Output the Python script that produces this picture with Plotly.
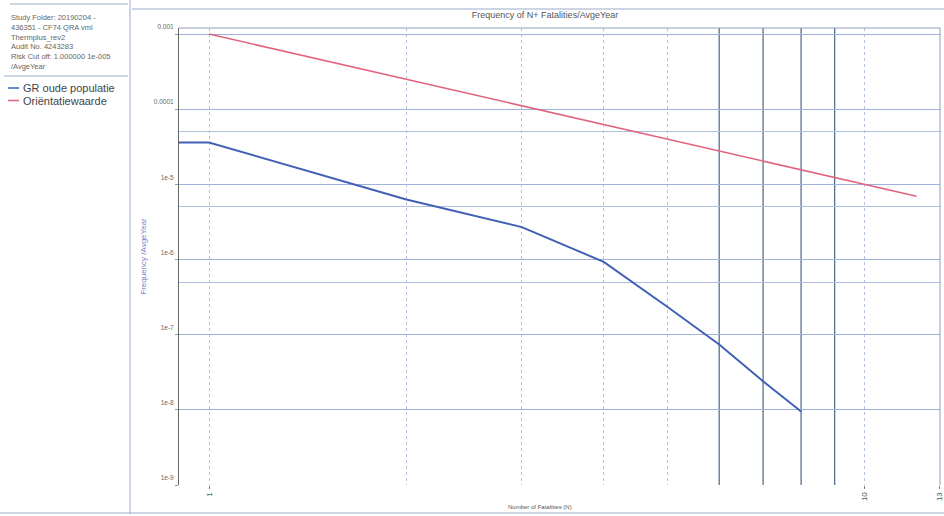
import math
import plotly.graph_objects as go

# ---- data ----
N_gr = [0.9, 1, 2, 3, 4, 5, 6, 7, 8]
F_gr = [3.6e-5, 3.6e-5, 6.3e-6, 2.7e-6, 9.3e-7, 2.35e-7, 7.4e-8, 2.4e-8, 9.5e-9]

N_ow = [1, 2, 3, 4, 5, 6, 7, 8, 9, 10, 11, 12]
F_ow = [1.0e-3, 2.5e-4, 1.11e-4, 6.25e-5, 4.0e-5, 2.78e-5, 2.04e-5,
        1.56e-5, 1.23e-5, 1.0e-5, 8.26e-6, 6.94e-6]

y_tickvals = [1e-3, 1e-4, 1e-5, 1e-6, 1e-7, 1e-8, 1e-9]
y_ticktext = ["0.001", "0.0001", "1e-5", "1e-6", "1e-7", "1e-8", "1e-9"]
y_minor_grid = [5e-5, 5e-6, 5e-7]

x_tickvals = [1, 10, 13]
x_ticktext = ["1", "10", "13"]
x_light_grid = [1, 2, 3, 4, 5, 10]
x_dark_grid = [6, 7, 8, 9]

info_lines = ["Study Folder: 20190204 -", "436351 - CF74 QRA vml",
              "Thermplus_rev2", "Audit No. 4243283",
              "Risk Cut off: 1.000000 1e-005", "/AvgeYear"]
series_names = ["GR oude populatie", "Oriëntatiewaarde"]
series_colors = ["#3f60b4", "#e0647e"]

# ---- geometry ----
W, H = 944, 516
L, R, T, B = 179, 940, 28, 485
pw, ph = R - L, B - T
def px(x):
    return (x - L) / pw
def py(y):
    return (B - y) / ph

FONT = "Liberation Sans, Arial, sans-serif"

fig = go.Figure()
fig.add_trace(go.Scatter(x=N_gr, y=F_gr, mode="lines", name=series_names[0],
                         line=dict(color=series_colors[0], width=2)))
fig.add_trace(go.Scatter(x=N_ow, y=F_ow, mode="lines", name=series_names[1],
                         line=dict(color=series_colors[1], width=1.6)))

shapes = []
for n in x_dark_grid:
    shapes.append(dict(type="line", xref="x", yref="paper", x0=n, x1=n,
                       y0=0, y1=1, line=dict(color="#56708f", width=1.3),
                       layer="below"))
line_c = "#9ba9c8"
shapes += [
    dict(type="line", xref="paper", yref="paper", x0=0, x1=1, y0=1, y1=1,
         line=dict(color="#8f9cbc", width=1)),
    dict(type="line", xref="paper", yref="paper", x0=1, x1=1, y0=0, y1=1,
         line=dict(color="#8f9cbc", width=1)),
    dict(type="line", xref="paper", yref="paper", x0=px(130), x1=px(130),
         y0=py(0), y1=py(514), line=dict(color=line_c, width=1)),
    dict(type="line", xref="paper", yref="paper", x0=px(132), x1=px(944),
         y0=py(9), y1=py(9), line=dict(color=line_c, width=1)),
    dict(type="line", xref="paper", yref="paper", x0=px(0), x1=px(944),
         y0=py(513), y1=py(513), line=dict(color=line_c, width=1)),
    dict(type="line", xref="paper", yref="paper", x0=px(4), x1=px(128),
         y0=py(76), y1=py(76), line=dict(color=line_c, width=1)),
    dict(type="line", xref="paper", yref="paper", x0=px(10), x1=px(128),
         y0=py(4), y1=py(4), line=dict(color=line_c, width=1)),
]
LEG_Y0, LEG_DY = 88, 12.5
# legend samples (short coloured dashes)
for i, col in enumerate(series_colors):
    shapes.append(dict(type="line", xref="paper", yref="paper",
                       x0=px(8), x1=px(19), y0=py(LEG_Y0 + LEG_DY * i),
                       y1=py(LEG_Y0 + LEG_DY * i),
                       line=dict(color=col, width=1.5)))

annotations = [
    dict(xref="paper", yref="paper", x=px(9), y=py(11), xanchor="left",
         yanchor="top", align="left", showarrow=False,
         text="<br>".join(info_lines),
         font=dict(family=FONT, size=7.5, color="#666666")),
]
for i, name in enumerate(series_names):
    annotations.append(dict(
        xref="paper", yref="paper", x=px(21), y=py(LEG_Y0 + LEG_DY * i),
        xanchor="left", yanchor="middle", showarrow=False, text=name,
        font=dict(family=FONT, size=11, color="#444444")))
annotations.append(dict(
    xref="paper", yref="paper", x=px(540), y=py(507), xanchor="center",
    yanchor="middle", showarrow=False, text="Number of Fatalities (N)",
    font=dict(family=FONT, size=6, color="#555555")))

fig.update_layout(
    width=W, height=H,
    margin=dict(l=L, r=W - R, t=T, b=H - B, pad=0, autoexpand=False),
    paper_bgcolor="white", plot_bgcolor="white",
    showlegend=False,
    title=dict(text="Frequency of N+ Fatalities/AvgeYear", x=545 / W,
               xanchor="center", y=1 - 15 / H, yanchor="middle",
               font=dict(family=FONT, size=9, color="#555555")),
    shapes=shapes, annotations=annotations,
    font=dict(family=FONT, color="#666666"),
)
fig.update_xaxes(
    type="log", range=[math.log10(0.9), math.log10(13.03)], automargin=False,
    tickmode="array", tickvals=x_tickvals, ticktext=x_ticktext,
    tickangle=-90, tickfont=dict(family=FONT, size=8, color="#555555"),
    ticks="outside", ticklen=3, tickcolor="#777777",
    showgrid=False, zeroline=False, showline=False,
    minor=dict(tickmode="array", tickvals=x_light_grid, showgrid=True,
               gridcolor="#b4c2e2", griddash="dot", gridwidth=1, ticks=""),
)
fig.update_yaxes(
    type="log", range=[-9, -2.92], automargin=False,
    tickmode="array", tickvals=y_tickvals, ticktext=y_ticktext,
    tickfont=dict(family=FONT, size=6.5, color="#666666"),
    ticklabelshift=-7,
    ticks="outside", ticklen=3, tickcolor="#999999",
    showgrid=True, gridcolor="#9fb2de", gridwidth=1,
    showline=True, linecolor="#666666", linewidth=1, zeroline=False,
    title=dict(text="Frequency /AvgeYear", standoff=6,
               font=dict(family=FONT, size=8, color="#8080d0")),
    minor=dict(tickmode="array", tickvals=y_minor_grid, showgrid=True,
               gridcolor="#b0c0e4", gridwidth=1, ticks=""),
)

fig.write_html("out.html", config={"displayModeBar": False},
               post_script="document.body.style.margin='0';")
